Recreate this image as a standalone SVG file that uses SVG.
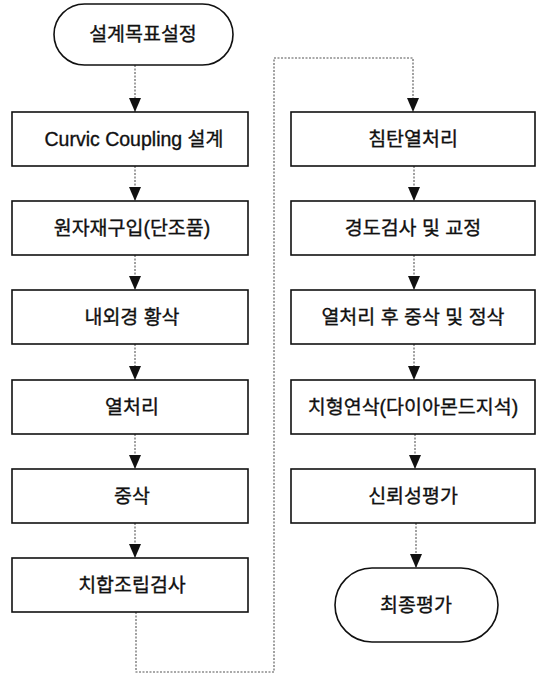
<svg xmlns="http://www.w3.org/2000/svg" width="543" height="675" viewBox="0 0 543 675">
<style>
.box{fill:#fff;stroke:#111;stroke-width:1.6}
.t{font-family:"Liberation Sans","Noto Sans CJK KR",sans-serif;font-size:19.5px;fill:#111;stroke:#111;stroke-width:0.35;text-anchor:middle}
.c{fill:none;stroke:#555;stroke-width:1.1;stroke-dasharray:2 1.5}
</style>
<defs>
<marker id="ah" viewBox="0 0 14 12" refX="14" refY="6" markerWidth="14" markerHeight="12" markerUnits="userSpaceOnUse" orient="auto">
<path d="M0,0 L14,6 L0,12 Z" fill="#111"/>
</marker>
</defs>
<rect width="543" height="675" fill="#fff"/>
<g id="connectors">
<line class="c" x1="135" y1="65" x2="135" y2="112" marker-end="url(#ah)"/>
<line class="c" x1="135" y1="166" x2="135" y2="201" marker-end="url(#ah)"/>
<line class="c" x1="135" y1="255" x2="135" y2="290" marker-end="url(#ah)"/>
<line class="c" x1="135" y1="344" x2="135" y2="380" marker-end="url(#ah)"/>
<line class="c" x1="135" y1="434" x2="135" y2="469" marker-end="url(#ah)"/>
<line class="c" x1="135" y1="523" x2="135" y2="558" marker-end="url(#ah)"/>
<polyline class="c" points="136,612 136,672 274,672 274,58 413,58 413,112" marker-end="url(#ah)"/>
<line class="c" x1="414" y1="166" x2="414" y2="201" marker-end="url(#ah)"/>
<line class="c" x1="414" y1="255" x2="414" y2="290" marker-end="url(#ah)"/>
<line class="c" x1="414" y1="344" x2="414" y2="380" marker-end="url(#ah)"/>
<line class="c" x1="415" y1="434" x2="415" y2="469" marker-end="url(#ah)"/>
<line class="c" x1="416" y1="523" x2="416" y2="568" marker-end="url(#ah)"/>
</g>
<g id="n1"><rect class="box" x="54" y="4" width="179" height="61" rx="30.5"/><text class="t" x="143" y="41">설계목표설정</text></g>
<g id="n2"><rect class="box" x="12" y="112" width="236" height="54"/><text class="t" x="134" y="146">Curvic Coupling 설계</text></g>
<g id="n3"><rect class="box" x="12" y="201" width="236" height="54"/><text class="t" x="132" y="235">원자재구입(단조품)</text></g>
<g id="n4"><rect class="box" x="12" y="290" width="236" height="54"/><text class="t" x="132" y="324">내외경 황삭</text></g>
<g id="n5"><rect class="box" x="12" y="380" width="236" height="54"/><text class="t" x="132" y="414">열처리</text></g>
<g id="n6"><rect class="box" x="12" y="469" width="236" height="54"/><text class="t" x="132" y="503">중삭</text></g>
<g id="n7"><rect class="box" x="12" y="558" width="236" height="54"/><text class="t" x="132" y="592">치합조립검사</text></g>
<g id="n8"><rect class="box" x="291" y="112" width="244" height="54"/><text class="t" x="413" y="146">침탄열처리</text></g>
<g id="n9"><rect class="box" x="291" y="201" width="244" height="54"/><text class="t" x="413" y="235">경도검사 및 교정</text></g>
<g id="n10"><rect class="box" x="291" y="290" width="244" height="54"/><text class="t" x="413" y="324">열처리 후 중삭 및 정삭</text></g>
<g id="n11"><rect class="box" x="291" y="380" width="244" height="54"/><text class="t" x="413" y="414">치형연삭(다이아몬드지석)</text></g>
<g id="n12"><rect class="box" x="291" y="469" width="244" height="54"/><text class="t" x="413" y="503">신뢰성평가</text></g>
<g id="n13"><rect class="box" x="335" y="568" width="163" height="74" rx="37"/><text class="t" x="416" y="612">최종평가</text></g>
</svg>
